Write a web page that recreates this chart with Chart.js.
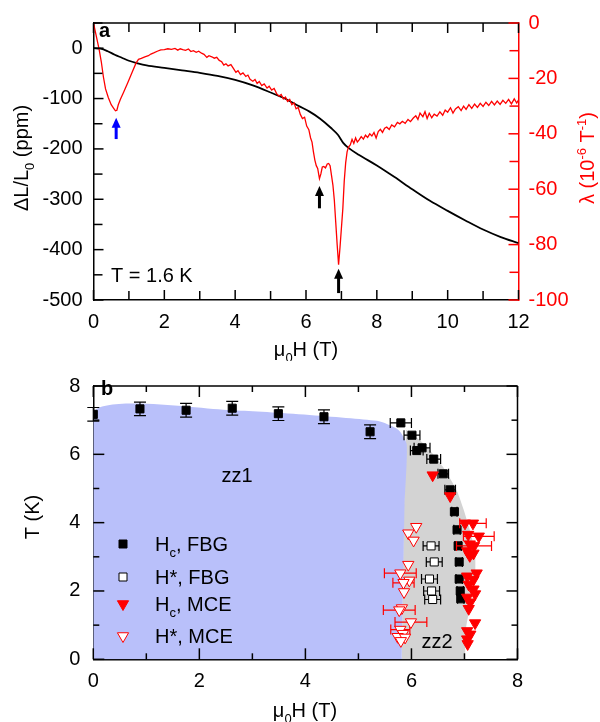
<!DOCTYPE html>
<html>
<head>
<meta charset="utf-8">
<script src="https://cdn.jsdelivr.net/npm/chart.js@4.4.1/dist/chart.umd.min.js"></script>
<style>
  body { margin: 0; background: #fff; }
  .panel { position: absolute; left: 0; width: 600px; height: 361px; }
  #wrapA { top: 0; }
  #wrapB { top: 361px; }
</style>
</head>
<body>
<div class="panel" id="wrapA"><canvas id="chartA" width="600" height="361"></canvas></div>
<div class="panel" id="wrapB"><canvas id="chartB" width="600" height="361"></canvas></div>
<script>
// ---- panel a : strain (left axis) ----
const strainH = [0, 0.2, 0.4, 0.6, 0.8, 1.0, 1.25, 1.5, 2.0, 2.5, 3.0, 3.5, 4.0, 4.5, 5.0, 5.4, 5.8, 6.1, 6.4, 6.7, 6.9, 7.05, 7.2, 7.5, 8.0, 8.5, 9.0, 9.5, 10.0, 10.5, 11.0, 11.5, 12.0];
const strainPpm = [0, -1, -6, -13, -19, -25, -30, -34, -39, -44, -49, -55, -63, -74, -88, -100, -115, -126, -140, -158, -172, -188, -198, -212, -233, -256, -280, -303, -323, -342, -360, -375, -387];

// ---- panel a : magnetostriction coefficient lambda (right axis) ----
const lamH = [0, 0.05, 0.1, 0.16, 0.22, 0.28, 0.34, 0.42, 0.5, 0.57, 0.62, 0.66, 0.7, 0.76, 0.85, 0.97, 1.1, 1.2, 1.27, 1.35, 1.45, 1.55, 1.62, 1.7, 1.8, 1.9, 2.0, 2.1, 2.2, 2.3, 2.38, 2.45, 2.52, 2.6, 2.68, 2.75, 2.82, 2.9, 2.97, 3.05, 3.12, 3.2, 3.26, 3.34, 3.41, 3.48, 3.55, 3.62, 3.68, 3.74, 3.8, 3.88, 3.95, 4.02, 4.08, 4.15, 4.22, 4.3, 4.36, 4.42, 4.5, 4.56, 4.62, 4.68, 4.75, 4.82, 4.9, 4.96, 5.03, 5.1, 5.17, 5.24, 5.3, 5.36, 5.42, 5.48, 5.54, 5.6, 5.66, 5.72, 5.78, 5.84, 5.9, 5.96, 6.02, 6.08, 6.13, 6.17, 6.21, 6.25, 6.29, 6.33, 6.38, 6.42, 6.46, 6.5, 6.55, 6.6, 6.64, 6.68, 6.72, 6.76, 6.8, 6.84, 6.88, 6.92, 6.96, 7.0, 7.04, 7.08, 7.12, 7.16, 7.2, 7.25, 7.3, 7.35, 7.4, 7.45, 7.5, 7.56, 7.62, 7.68, 7.74, 7.8, 7.86, 7.92, 7.98, 8.04, 8.1, 8.16, 8.22, 8.28, 8.35, 8.42, 8.5, 8.58, 8.65, 8.72, 8.8, 8.88, 8.95, 9.03, 9.1, 9.16, 9.22, 9.3, 9.36, 9.42, 9.48, 9.55, 9.62, 9.7, 9.78, 9.86, 9.93, 10.0, 10.08, 10.15, 10.22, 10.3, 10.38, 10.45, 10.52, 10.6, 10.68, 10.76, 10.84, 10.92, 11.0, 11.08, 11.16, 11.24, 11.32, 11.4, 11.48, 11.56, 11.64, 11.72, 11.8, 11.88, 11.95, 12.0];
const lamVal = [0, -3, -6, -9.6, -14, -19.5, -23.8, -27, -29.5, -30.8, -31.7, -31.5, -29.5, -27.5, -25, -21.5, -17.5, -14.5, -13.1, -12.8, -12.2, -11.8, -11.2, -10.8, -10.2, -9.7, -9.6, -9.3, -9.5, -9.2, -9.8, -9.3, -9.6, -9.9, -9.4, -10.3, -10.0, -10.6, -10.2, -10.9, -11.3, -12.4, -11.8, -12.2, -12.7, -12.4, -13.5, -14.0, -15.2, -14.7, -15.5, -15.0, -16.4, -17.8, -17.2, -18.6, -18.0, -19.3, -18.8, -20.3, -21.0, -20.4, -21.8, -21.1, -22.6, -22.0, -23.5, -22.8, -24.2, -23.6, -25.5, -26.4, -25.8, -27.4, -26.7, -28.3, -27.6, -29.5, -28.8, -31.0, -30.5, -33.0, -34.5, -34.0, -37.2, -38.5, -41.5, -43.0, -46.5, -49.5, -51.5, -52.5, -56.2, -54.5, -52.0, -51.8, -52.3, -50.9, -50.7, -51.5, -55.0, -58.5, -64.0, -72.0, -80.0, -87.3, -81.0, -74.0, -67.0, -57.0, -50.5, -46.5, -44.8, -44.0, -42.0, -43.5, -41.5, -43.0, -42.2, -41.0, -41.9, -40.5, -41.3, -40.0, -40.8, -39.5, -41.5, -39.2, -38.4, -39.5, -38.0, -37.6, -38.4, -36.8, -37.5, -35.9, -36.4, -35.5, -36.2, -34.8, -35.6, -34.3, -33.5, -34.8, -32.5, -33.8, -32.0, -34.5, -32.6, -34.2, -32.9, -33.6, -32.1, -33.3, -31.4, -32.2, -30.6, -32.5, -31.0, -30.2, -31.6, -30.0, -31.2, -29.5, -30.8, -29.3, -30.5, -29.0, -30.1, -28.6, -29.8, -28.3, -29.6, -28.2, -29.4, -27.9, -29.0, -27.6, -29.2, -27.4, -28.9, -27.8];

// arrows marking the anomalies (field, tip and tail in lambda units)
const arrowH = [0.64, 6.38, 6.92];
const arrowTip = [-34.2, -58.8, -88.7];
const arrowTail = [-41.9, -66.9, -97.5];
const arrowColors = ['#0000ff', '#000000', '#000000'];

// ---- panel b : phase diagram ----
const hcFbgH = [0, 0.88, 1.75, 2.62, 3.49, 4.35, 5.22, 5.80, 6.01, 6.10, 6.20, 6.42, 6.60, 6.73, 6.81, 6.86, 6.88, 6.90, 6.90, 6.92, 6.93];
const hcFbgT = [7.17, 7.33, 7.29, 7.35, 7.19, 7.10, 6.66, 6.92, 6.56, 6.11, 6.19, 5.86, 5.43, 4.96, 4.32, 3.79, 3.32, 2.85, 2.35, 2.00, 1.77];
const hcFbgHErr = [0, 0, 0, 0, 0, 0, 0, 0.2, 0.15, 0.12, 0.15, 0.13, 0.1, 0.1, 0.05, 0.06, 0.06, 0.06, 0.06, 0.06, 0.06];
const hcFbgTErr = [0.2, 0.2, 0.2, 0.2, 0.2, 0.2, 0.2, 0, 0, 0, 0, 0, 0, 0, 0, 0, 0, 0, 0, 0, 0];

const hsFbgH = [6.37, 6.43, 6.34, 6.38, 6.40];
const hsFbgT = [3.32, 2.85, 2.35, 2.00, 1.75];
const hsFbgHErr = [0.15, 0.15, 0.15, 0.15, 0.15];

const hcMceH = [6.40, 6.73, 7.01, 7.16, 7.07, 7.27, 7.10, 7.18, 7.05, 7.17, 7.10, 7.23, 7.05, 7.17, 7.08, 7.17, 7.20, 7.05, 7.11, 7.08, 7.20, 7.05, 7.11, 7.05, 7.06];
const hcMceT = [5.39, 4.78, 3.98, 3.98, 3.65, 3.60, 3.37, 3.32, 3.17, 3.10, 3.03, 2.52, 2.43, 2.33, 2.19, 2.05, 1.91, 1.81, 1.67, 1.48, 1.06, 0.83, 0.73, 0.59, 0.45];
const hcMceHErr = [0, 0, 0, 0.25, 0, 0.29, 0, 0.33, 0, 0, 0, 0, 0, 0, 0, 0, 0, 0, 0, 0, 0, 0, 0, 0, 0];

const hsMceH = [6.09, 5.94, 6.04, 5.94, 5.79, 5.96, 5.85, 5.86, 5.82, 5.77, 5.99, 5.79, 5.84, 5.74, 5.88, 5.80];
const hsMceT = [3.88, 3.69, 3.48, 2.77, 2.52, 2.31, 2.24, 1.97, 1.50, 1.44, 1.09, 0.87, 0.75, 0.66, 0.64, 0.54];
const hsMceHErr = [0, 0, 0, 0, 0.3, 0, 0.2, 0, 0, 0.3, 0.3, 0.18, 0, 0, 0, 0];

// phase regions (outline of each area)
const zz1H = [0, 0, 2.6, 5.35, 5.75, 5.91, 5.87, 5.82];
const zz1T = [0, 7.23, 7.29, 6.98, 6.72, 6.3, 4.5, 0];
const zz2H = [5.82, 5.9, 6.05, 6.3, 6.6, 6.86, 6.98, 7.11, 7.2, 7.2, 7.11, 7.03, 7.01];
const zz2T = [0, 6.7, 6.55, 6.2, 5.62, 4.92, 4.4, 3.74, 3.08, 2.43, 1.58, 0.92, 0];

const FONT = 'Arial, "Liberation Sans", Helvetica, sans-serif';
Chart.defaults.font.family = FONT;
Chart.defaults.font.size = 20;
Chart.defaults.color = '#000';

const pts = (xs, ys) => xs.map((x, i) => ({ x: x, y: ys[i] }));

// draw text made of pieces: [text, ''|'sub'|'sup']
function richText(ctx, segs, x, y, opt) {
    const size = opt.size || 20;
    const small = Math.round(size * 0.65);
    const fontFor = k => (opt.bold ? 'bold ' : '') + (k ? small : size) + 'px ' + FONT;
    let w = 0;
    segs.forEach(s => { ctx.font = fontFor(s[1]); w += ctx.measureText(s[0]).width; });
    ctx.save();
    ctx.translate(x, y);
    if (opt.rotate) ctx.rotate(opt.rotate);
    ctx.fillStyle = opt.color || '#000';
    ctx.textBaseline = 'alphabetic';
    ctx.textAlign = 'left';
    let cx = opt.align === 'left' ? 0 : -w / 2;
    segs.forEach(s => {
        ctx.font = fontFor(s[1]);
        const dy = s[1] === 'sub' ? size * 0.28 : (s[1] === 'sup' ? -size * 0.42 : 0);
        ctx.fillText(s[0], cx, dy);
        cx += ctx.measureText(s[0]).width;
    });
    ctx.restore();
}

// inward tick marks + frame (settings passed in directly)
function makeTicks(frame, axes) {
    return {
        id: 'innerTicks',
        afterDraw(chart) {
            const ctx = chart.ctx, a = chart.chartArea;
            ctx.save();
            ctx.lineWidth = 1.5;
            ctx.lineCap = 'butt';
            frame.forEach(f => {
                ctx.strokeStyle = f.color;
                ctx.beginPath();
                if (f.side === 'top') { ctx.moveTo(a.left, a.top); ctx.lineTo(a.right, a.top); }
                if (f.side === 'right') { ctx.moveTo(a.right, a.top); ctx.lineTo(a.right, a.bottom); }
                ctx.stroke();
            });
            axes.forEach(ax => {
                const sc = chart.scales[ax.id];
                const lo = ax.from, hi = ax.to;
                const n = Math.round((hi - lo) / ax.minor);
                ctx.strokeStyle = ax.color || '#000000';
                for (let k = 0; k <= n; k++) {
                    const v = lo + k * ax.minor;
                    const r = v / ax.major;
                    const len = Math.abs(r - Math.round(r)) < 1e-6 ? ax.majorLen : ax.minorLen;
                    const p = sc.getPixelForValue(v);
                    ax.sides.forEach(s => {
                        ctx.beginPath();
                        if (s === 'bottom') { ctx.moveTo(p, a.bottom); ctx.lineTo(p, a.bottom - len); }
                        if (s === 'top') { ctx.moveTo(p, a.top); ctx.lineTo(p, a.top + len); }
                        if (s === 'left') { ctx.moveTo(a.left, p); ctx.lineTo(a.left + len, p); }
                        if (s === 'right') { ctx.moveTo(a.right, p); ctx.lineTo(a.right - len, p); }
                        ctx.stroke();
                    });
                }
            });
            ctx.restore();
        }
    };
}

// horizontal / vertical error bars, drawn under each dataset's markers
const errorBars = {
    id: 'errorBars',
    beforeDatasetDraw(chart, args) {
        const ds = chart.data.datasets[args.index];
        if (!ds.errX && !ds.errY) return;
        const ctx = chart.ctx, xs = chart.scales.x, ys = chart.scales.y;
        const cap = 5;
        ctx.save();
        ctx.strokeStyle = ds.borderColor;
        ctx.lineWidth = 1.2;
        ds.data.forEach((d, i) => {
            const px = xs.getPixelForValue(d.x), py = ys.getPixelForValue(d.y);
            const ex = ds.errX ? ds.errX[i] : 0, ey = ds.errY ? ds.errY[i] : 0;
            ctx.beginPath();
            if (ex > 0) {
                const l = xs.getPixelForValue(d.x - ex), r = xs.getPixelForValue(d.x + ex);
                ctx.moveTo(l, py); ctx.lineTo(r, py);
                ctx.moveTo(l, py - cap); ctx.lineTo(l, py + cap);
                ctx.moveTo(r, py - cap); ctx.lineTo(r, py + cap);
            }
            if (ey > 0) {
                const t = ys.getPixelForValue(d.y + ey), b = ys.getPixelForValue(d.y - ey);
                ctx.moveTo(px, t); ctx.lineTo(px, b);
                ctx.moveTo(px - 6, t); ctx.lineTo(px + 6, t);
                ctx.moveTo(px - 6, b); ctx.lineTo(px + 6, b);
            }
            ctx.stroke();
        });
        ctx.restore();
    }
};

// texts, arrows and legend drawn on top
function makeOverlay(cfg) {
    return {
        id: 'overlay',
        afterDraw(chart) {
            const ctx = chart.ctx;
            (cfg.arrows || []).forEach(ar => {
                const sx = chart.scales.x, sy = chart.scales[ar.axis];
                ar.h.forEach((h, i) => {
                    const x = sx.getPixelForValue(h);
                    const tip = sy.getPixelForValue(ar.tip[i]), tail = sy.getPixelForValue(ar.tail[i]);
                    ctx.save();
                    ctx.fillStyle = ar.colors[i];
                    ctx.strokeStyle = ar.colors[i];
                    ctx.lineWidth = 3;
                    ctx.beginPath(); ctx.moveTo(x, tail); ctx.lineTo(x, tip + 7); ctx.stroke();
                    ctx.beginPath(); ctx.moveTo(x, tip); ctx.lineTo(x - 4.5, tip + 10); ctx.lineTo(x + 4.5, tip + 10); ctx.closePath(); ctx.fill();
                    ctx.restore();
                });
            });
            (cfg.legend || []).forEach(item => {
                const m = item.marker;
                ctx.save();
                ctx.fillStyle = m.fill; ctx.strokeStyle = m.stroke; ctx.lineWidth = 1;
                ctx.beginPath();
                if (m.shape === 'rect') {
                    ctx.rect(item.mx - 4, item.my - 4, 8, 8);
                } else {
                    ctx.moveTo(item.mx, item.my + 6.5);
                    ctx.lineTo(item.mx - 5.6, item.my - 3.25);
                    ctx.lineTo(item.mx + 5.6, item.my - 3.25);
                    ctx.closePath();
                }
                ctx.fill(); ctx.stroke();
                ctx.restore();
                richText(ctx, item.segs, item.tx, item.ty, { align: 'left' });
            });
            (cfg.texts || []).forEach(t => richText(ctx, t.segs, t.x, t.y, t));
        }
    };
}

const tickFix = v => (v % 100 === 0 ? v : '');

// ================= panel a =================
const ticksA = makeTicks(
    [{ side: 'top', color: '#000000' }],
    [
        { id: 'x', from: 0, to: 12, minor: 1, major: 2, majorLen: 10, minorLen: 9, sides: ['bottom', 'top'] },
        { id: 'y', from: -500, to: 50, minor: 50, major: 100, majorLen: 10, minorLen: 9, sides: ['left'] },
        { id: 'y1', from: -100, to: 0, minor: 10, major: 20, majorLen: 10, minorLen: 9, sides: ['right'], color: '#ff0000' }
    ]
);
const overlayA = makeOverlay({
    arrows: [{ axis: 'y1', h: arrowH, tip: arrowTip, tail: arrowTail, colors: arrowColors }],
    texts: [
        { segs: [['a', '']], x: 99, y: 37, align: 'left', bold: true },
        { segs: [['T = 1.6 K', '']], x: 111, y: 282, align: 'left' },
        { segs: [['\u03bc', ''], ['0', 'sub'], ['H (T)', '']], x: 306, y: 356 },
        { segs: [['\u0394L/L', ''], ['0', 'sub'], [' (ppm)', '']], x: 28, y: 158, rotate: -Math.PI / 2 },
        { segs: [['\u03bb (10', ''], ['-6', 'sup'], [' T', ''], ['-1', 'sup'], [')', '']], x: 594, y: 158, rotate: -Math.PI / 2, color: '#ff0000' }
    ]
});

new Chart(document.getElementById('chartA'), {
    type: 'line',
    data: {
        datasets: [
            { data: pts(lamH, lamVal), yAxisID: 'y1', borderColor: '#ff0000', borderWidth: 1.3, pointRadius: 0, tension: 0 },
            { data: pts(strainH, strainPpm), yAxisID: 'y', borderColor: '#000000', borderWidth: 1.8, pointRadius: 0, cubicInterpolationMode: 'monotone' }
        ]
    },
    options: {
        responsive: false,
        animation: false,
        layout: { padding: { top: 16, left: 0, right: 0, bottom: 0 } },
        plugins: { legend: { display: false }, tooltip: { enabled: false } },
        scales: {
            x: {
                type: 'linear', min: 0, max: 12, position: 'bottom',
                ticks: { stepSize: 2, padding: 10, maxRotation: 0 },
                grid: { display: false, drawTicks: false },
                border: { display: true, color: '#000', width: 1.5 },
                afterFit: s => { s.height = 61; }
            },
            y: {
                type: 'linear', min: -500, max: 50, position: 'left',
                ticks: { stepSize: 100, padding: 11, callback: tickFix },
                grid: { display: false, drawTicks: false },
                border: { display: true, color: '#000', width: 1.5 },
                afterFit: s => { s.width = 93.5; }
            },
            y1: {
                type: 'linear', min: -100, max: 0, position: 'right',
                ticks: { stepSize: 20, padding: 10, color: '#ff0000' },
                grid: { display: false, drawTicks: false },
                border: { display: true, color: '#ff0000', width: 1.5 },
                afterFit: s => { s.width = 81.5; }
            }
        }
    },
    plugins: [ticksA, overlayA]
});

// ================= panel b =================
const ticksB = makeTicks(
    [{ side: 'top', color: '#000000' }, { side: 'right', color: '#000000' }],
    [
        { id: 'x', from: 0, to: 8, minor: 1, major: 2, majorLen: 11, minorLen: 6, sides: ['bottom', 'top'] },
        { id: 'y', from: 0, to: 8, minor: 1, major: 2, majorLen: 11, minorLen: 6, sides: ['left', 'right'] }
    ]
);
const overlayB = makeOverlay({
    legend: [
        { marker: { shape: 'rect', fill: '#000', stroke: '#000' }, mx: 123, my: 183, segs: [['H', ''], ['c', 'sub'], [', FBG', '']], tx: 155, ty: 190 },
        { marker: { shape: 'rect', fill: '#fff', stroke: '#000' }, mx: 123, my: 216, segs: [['H*, FBG', '']], tx: 155, ty: 223 },
        { marker: { shape: 'tri', fill: '#ff0000', stroke: '#ff0000' }, mx: 123, my: 243, segs: [['H', ''], ['c', 'sub'], [', MCE', '']], tx: 155, ty: 250 },
        { marker: { shape: 'tri', fill: '#fff', stroke: '#ff0000' }, mx: 123, my: 275, segs: [['H*, MCE', '']], tx: 155, ty: 282 }
    ],
    texts: [
        { segs: [['b', '']], x: 101, y: 34, align: 'left', bold: true },
        { segs: [['zz1', '']], x: 237, y: 121 },
        { segs: [['zz2', '']], x: 437, y: 287 },
        { segs: [['\u03bc', ''], ['0', 'sub'], ['H (T)', '']], x: 305, y: 356 },
        { segs: [['T (K)', '']], x: 39, y: 156, rotate: -Math.PI / 2 }
    ]
});

new Chart(document.getElementById('chartB'), {
    type: 'line',
    data: {
        datasets: [
            { data: pts(hcMceH, hcMceT), errX: hcMceHErr, showLine: false, order: 0,
              pointStyle: 'triangle', rotation: 180, pointRadius: 6.5, backgroundColor: '#ff0000', borderColor: '#ff0000', borderWidth: 1 },
            { data: pts(hsMceH, hsMceT), errX: hsMceHErr, showLine: false, order: 0,
              pointStyle: 'triangle', rotation: 180, pointRadius: 6.5, backgroundColor: '#ffffff', borderColor: '#ff0000', borderWidth: 1 },
            { data: pts(hcFbgH, hcFbgT), errX: hcFbgHErr, errY: hcFbgTErr, showLine: false, order: 0,
              pointStyle: 'rect', pointRadius: 5.7, backgroundColor: '#000000', borderColor: '#000000', borderWidth: 1 },
            { data: pts(hsFbgH, hsFbgT), errX: hsFbgHErr, showLine: false, order: 0,
              pointStyle: 'rect', pointRadius: 5.7, backgroundColor: '#ffffff', borderColor: '#000000', borderWidth: 1 },
            { data: pts(zz1H, zz1T), order: 1, fill: 'shape', backgroundColor: 'rgb(185,192,250)',
              borderWidth: 0, borderColor: 'rgba(0,0,0,0)', pointRadius: 0, tension: 0.2 },
            { data: pts(zz2H, zz2T), order: 2, fill: 'shape', backgroundColor: 'rgb(211,211,211)',
              borderWidth: 0, borderColor: 'rgba(0,0,0,0)', pointRadius: 0, tension: 0.2 }
        ]
    },
    options: {
        responsive: false,
        animation: false,
        layout: { padding: { top: 14.7, left: 0, right: 82.5, bottom: 0 } },
        plugins: { legend: { display: false }, tooltip: { enabled: false } },
        scales: {
            x: {
                type: 'linear', min: 0, max: 8, position: 'bottom',
                ticks: { stepSize: 2, padding: 10, maxRotation: 0 },
                grid: { display: false, drawTicks: false },
                border: { display: true, color: '#000', width: 1.5 },
                afterFit: s => { s.height = 62.7; }
            },
            y: {
                type: 'linear', min: 0, max: 8, position: 'left',
                ticks: { stepSize: 2, padding: 13 },
                grid: { display: false, drawTicks: false },
                border: { display: true, color: '#000', width: 1.5 },
                afterFit: s => { s.width = 93.3; }
            }
        }
    },
    plugins: [errorBars, ticksB, overlayB]
});
</script>
</body>
</html>
